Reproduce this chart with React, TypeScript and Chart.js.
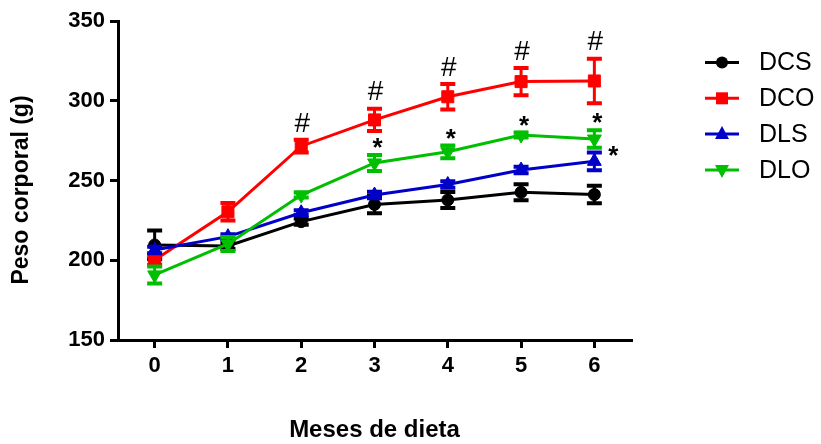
import { useEffect, useRef } from 'react';
import { Chart, registerables } from 'chart.js';

Chart.register(...registerables);

const months = ['0', '1', '2', '3', '4', '5', '6'];
const seriesNames = ['DCS', 'DCO', 'DLS', 'DLO'];
const seriesColors = ['#000000', '#FF0000', '#0000C8', '#00BE00'];
const dcs = [209.6, 209, 224.2, 235, 237.8, 242.6, 241.2];
const dcsErr = [9, 2, 2, 5.5, 5, 5, 5.5];
const dco = [200.2, 230.4, 271.5, 288, 302.5, 312, 312.4];
const dcoErr = [3, 5.5, 4, 7, 8, 8.5, 14];
const dls = [206.4, 214.8, 229.8, 240.9, 247.5, 256.6, 262];
const dlsErr = [2, 1.5, 1.5, 2, 2, 2, 5.5];
const dlo = [190.8, 210.2, 240.9, 261, 268, 278.5, 276];
const dloErr = [5.3, 4.4, 1.5, 5, 4, 1.5, 5.5];
const yTicks = [150, 200, 250, 300, 350];
const hashIdxDCO = [2, 3, 4, 5, 6];
const starIdxDLO = [3, 4, 5, 6];
const starIdxDLS = [6];

const FONT = "'Liberation Sans', Arial, Helvetica, sans-serif";

const values = [dcs, dco, dls, dlo];
const errors = [dcsErr, dcoErr, dlsErr, dloErr];
const styles = ['circle', 'rect', 'triangle', 'triangle'];
const radii = [6, 8.5, 8, 8];
const rotations = [0, 0, 0, 180];

function drawMarker(ctx: CanvasRenderingContext2D, kind: string, x: number, y: number, color: string) {
  ctx.save();
  ctx.fillStyle = color;
  ctx.beginPath();
  if (kind === 'DCS') {
    ctx.arc(x, y, 6, 0, Math.PI * 2);
  } else if (kind === 'DCO') {
    ctx.rect(x - 6, y - 6, 12, 12);
  } else if (kind === 'DLS') {
    ctx.moveTo(x, y - 8);
    ctx.lineTo(x + 7, y + 5);
    ctx.lineTo(x - 7, y + 5);
    ctx.closePath();
  } else {
    ctx.moveTo(x, y + 8);
    ctx.lineTo(x + 7, y - 5);
    ctx.lineTo(x - 7, y - 5);
    ctx.closePath();
  }
  ctx.fill();
  ctx.restore();
}

const errorBarPlugin = {
  id: 'errorBars',
  afterDatasetDraw(chart: any, args: any) {
    const i = args.index;
    const ctx = chart.ctx;
    const meta = chart.getDatasetMeta(i);
    const ys = chart.scales.y;
    ctx.save();
    ctx.strokeStyle = seriesColors[i];
    meta.data.forEach((pt: any, j: number) => {
      const v = values[i][j];
      const e = errors[i][j];
      const top = ys.getPixelForValue(v + e);
      const bot = ys.getPixelForValue(v - e);
      ctx.lineWidth = 3;
      ctx.beginPath();
      ctx.moveTo(pt.x, top);
      ctx.lineTo(pt.x, bot);
      ctx.stroke();
      ctx.lineWidth = 4;
      ctx.beginPath();
      ctx.moveTo(pt.x - 7.5, top);
      ctx.lineTo(pt.x + 7.5, top);
      ctx.moveTo(pt.x - 7.5, bot);
      ctx.lineTo(pt.x + 7.5, bot);
      ctx.stroke();
    });
    ctx.restore();
  },
};

const extrasPlugin = {
  id: 'extras',
  afterDraw(chart: any) {
    const ctx = chart.ctx;
    const xs = chart.scales.x;
    const ys = chart.scales.y;
    const area = chart.chartArea;
    ctx.save();
    ctx.fillStyle = '#000';
    ctx.textAlign = 'center';
    ctx.textBaseline = 'middle';
    // significance marks
    ctx.font = `28px ${FONT}`;
    hashIdxDCO.forEach((j) => {
      const x = xs.getPixelForValue(j);
      const y = ys.getPixelForValue(dco[j] + dcoErr[j]) - 16;
      ctx.fillText('#', x + 1, y);
    });
    ctx.font = `bold 26px ${FONT}`;
    starIdxDLO.forEach((j) => {
      const x = xs.getPixelForValue(j);
      const y = ys.getPixelForValue(dlo[j] + dloErr[j]) - 12;
      ctx.fillText('*', x + 3, y + 6);
    });
    starIdxDLS.forEach((j) => {
      const x = xs.getPixelForValue(j);
      const y = ys.getPixelForValue(dls[j]) - 11;
      ctx.fillText('*', x + 19, y + 6);
    });
    // axis titles
    ctx.font = `bold 24px ${FONT}`;
    ctx.fillText('Meses de dieta', (area.left + area.right) / 2, 430);
    ctx.save();
    ctx.translate(22, 190);
    ctx.rotate(-Math.PI / 2);
    ctx.font = `bold 23px ${FONT}`;
    ctx.fillText('Peso corporal (g)', 0, 0);
    ctx.restore();
    // legend
    ctx.font = `25px ${FONT}`;
    ctx.textAlign = 'left';
    seriesNames.forEach((name, i) => {
      const y = 62.5 + i * 35.8;
      ctx.strokeStyle = seriesColors[i];
      ctx.lineWidth = 3;
      ctx.beginPath();
      ctx.moveTo(705, y);
      ctx.lineTo(739, y);
      ctx.stroke();
      drawMarker(ctx, name, 722, y, seriesColors[i]);
      ctx.fillStyle = '#000';
      ctx.fillText(name, 759, y + 1);
    });
    ctx.restore();
  },
};

export default function App() {
  const ref = useRef<HTMLCanvasElement | null>(null);
  useEffect(() => {
    if (!ref.current) return;
    const chart = new Chart(ref.current, {
      type: 'line',
      data: {
        labels: months,
        datasets: seriesNames.map((name, i) => ({
          label: name,
          data: values[i],
          borderColor: seriesColors[i],
          backgroundColor: seriesColors[i],
          pointBackgroundColor: seriesColors[i],
          pointBorderColor: seriesColors[i],
          pointBorderWidth: 1,
          pointStyle: styles[i] as any,
          pointRadius: radii[i],
          pointRotation: rotations[i],
          borderWidth: 3,
          tension: 0,
          fill: false,
          order: 4 - i,
        })),
      },
      options: {
        animation: false,
        responsive: false,
        layout: { padding: { top: 21, right: 190, left: 0, bottom: 0 } },
        plugins: { legend: { display: false }, tooltip: { enabled: false } },
        scales: {
          x: {
            type: 'category',
            offset: true,
            grid: { drawOnChartArea: false, drawTicks: true, tickLength: 8, color: '#000', lineWidth: 3, offset: false },
            border: { display: true, color: '#000', width: 3 },
            ticks: { color: '#000', font: { family: FONT, size: 22, weight: 'bold' }, padding: 5, maxRotation: 0 },
            afterFit: (s: any) => { s.height = 104; },
          },
          y: {
            type: 'linear',
            min: 150,
            max: 350,
            grid: { drawOnChartArea: false, drawTicks: true, tickLength: 8, color: '#000', lineWidth: 3 },
            border: { display: true, color: '#000', width: 3 },
            ticks: { color: '#000', font: { family: FONT, size: 22, weight: 'bold' }, padding: 5 },
            afterBuildTicks: (s: any) => { s.ticks = yTicks.map((v) => ({ value: v })); },
            afterFit: (s: any) => { s.width = 118; },
          },
        },
      },
      plugins: [errorBarPlugin, extrasPlugin],
    });
    return () => chart.destroy();
  }, []);
  return (
    <div style={{ position: 'absolute', left: 0, top: 0, width: 821, height: 444, background: '#fff' }}>
      <canvas ref={ref} width={821} height={444} style={{ display: 'block' }} />
    </div>
  );
}
